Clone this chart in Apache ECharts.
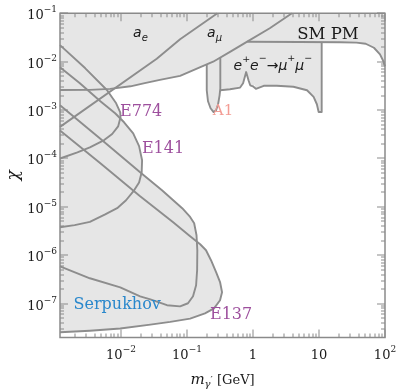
<!DOCTYPE html>
<html>
<head>
<meta charset="utf-8">
<script src="https://cdn.jsdelivr.net/npm/echarts@6/dist/echarts.min.js"></script>
<style>
  html, body { margin: 0; padding: 0; background: #ffffff; }
  #chart { width: 397px; height: 391px; }
</style>
</head>
<body>
<div id="chart"></div>
<script>
// Dark photon limits in the (mass, kinetic mixing) plane, log-log.

// Axis ranges and decade tick labels
const massRange = [0.0012, 100];
const chiRange = [2e-8, 0.1];
const massTicks = [0.01, 0.1, 1, 10, 100];
const massTickLabels = [['10', '−2'], ['10', '−1'], ['1', ''], ['10', ''], ['10', '2']];
const chiTicks = [1e-7, 1e-6, 1e-5, 1e-4, 1e-3, 1e-2, 1e-1];
const chiTickLabels = [['10', '−7'], ['10', '−6'], ['10', '−5'], ['10', '−4'], ['10', '−3'], ['10', '−2'], ['10', '−1']];

// Electron g-2 (excluded above)
const aeMass = [0.0012, 0.0034, 0.0069, 0.014, 0.023, 0.039, 0.079, 0.16, 0.25, 0.45, 0.82, 1.8, 3.9];
const aeChi  = [2.6e-3, 2.62e-3, 2.75e-3, 3.1e-3, 3.6e-3, 4.2e-3, 5.1e-3, 7.7e-3, 1.0e-2, 1.6e-2, 2.6e-2, 4.9e-2, 0.1];

// Muon g-2
const amuMass = [0.0012, 0.035, 0.079, 0.29];
const amuChi  = [4.5e-4, 1.15e-2, 2.9e-2, 0.1];

// SM precision measurements
const smpmMass = [0.82, 5.1, 21, 37, 51, 68, 84, 93, 100];
const smpmChi  = [0.0258, 0.0255, 0.0252, 0.0248, 0.0235, 0.0194, 0.0142, 0.0107, 0.0080];

// A1 fixed-target search
const a1Mass = [0.20, 0.20, 0.209, 0.2285, 0.254, 0.277, 0.297, 0.313, 0.321, 0.321];
const a1Chi  = [8.8e-3, 2.57e-3, 1.52e-3, 1.09e-3, 9.1e-4, 9.9e-4, 1.32e-3, 2.02e-3, 2.82e-3, 1.23e-2];

// e+e- -> mu+mu- resonance search
const eeMass = [0.321, 0.45, 0.64, 0.71, 0.79, 0.86, 0.91, 1.0, 1.06, 1.11, 1.46, 2.3, 4.1, 6.6, 8.3, 9.3, 9.9, 10.3, 11, 11];
const eeChi  = [2.57e-3, 2.69e-3, 2.92e-3, 3.58e-3, 6.1e-3, 4.1e-3, 3.25e-3, 3.1e-3, 3.33e-3, 2.75e-3, 3.18e-3, 3.18e-3, 3.03e-3, 2.57e-3, 1.87e-3, 1.32e-3, 9.1e-4, 9.0e-4, 9.1e-4, 0.0252];

// Beam dumps
const e774Mass = [0.0012, 0.0029, 0.0062, 0.0085, 0.0098, 0.0099, 0.0091, 0.0074, 0.0056, 0.0034, 0.0022, 0.0012];
const e774Chi  = [2.2e-2, 7.3e-3, 2.57e-3, 1.38e-3, 9.0e-4, 7.1e-4, 4.6e-4, 3.2e-4, 2.4e-4, 1.7e-4, 1.34e-4, 1.0e-4];

const e141Mass = [0.0012, 0.0024, 0.0049, 0.0082, 0.0112, 0.0154, 0.0189, 0.021, 0.0207, 0.0189, 0.0159, 0.012, 0.0088, 0.0058, 0.0034, 0.0020, 0.0012];
const e141Chi  = [7.7e-3, 3.6e-3, 1.52e-3, 8.6e-4, 5.6e-4, 3.3e-4, 1.8e-4, 9.2e-5, 5.2e-5, 3.2e-5, 2.2e-5, 1.37e-5, 9.4e-6, 7.0e-6, 4.9e-6, 4.2e-6, 3.8e-6];

const serpMass = [0.0012, 0.0049, 0.0196, 0.042, 0.085, 0.112, 0.129, 0.140, 0.144, 0.143, 0.138, 0.124, 0.104, 0.079, 0.050, 0.028, 0.0196, 0.0098, 0.0034, 0.0012];
const serpChi  = [1.26e-3, 2.55e-4, 5.2e-5, 2.2e-5, 9.4e-6, 6.2e-6, 4.6e-6, 2.6e-6, 1.27e-6, 4.9e-7, 2.4e-7, 1.42e-7, 1.02e-7, 8.8e-8, 9.3e-8, 1.23e-7, 1.42e-7, 2.18e-7, 3.35e-7, 5.9e-7];

const e137Mass = [0.0012, 0.0049, 0.0196, 0.062, 0.112, 0.159, 0.195, 0.232, 0.277, 0.318, 0.341, 0.318, 0.258, 0.188, 0.112, 0.056, 0.028, 0.0098, 0.0034, 0.0012];
const e137Chi  = [3.8e-4, 8.0e-5, 1.66e-5, 4.8e-6, 2.47e-6, 1.69e-6, 1.27e-6, 7.9e-7, 4.5e-7, 2.8e-7, 1.72e-7, 1.18e-7, 8.0e-8, 6.3e-8, 4.9e-8, 4.2e-8, 3.7e-8, 3.06e-8, 2.76e-8, 2.56e-8];

// ---- styling ----
const FILL = '#e6e6e6', LINE = '#8d8d8d', FRAME = '#8a8a8a', INK = '#1a1a1a';
const PURPLE = '#9d4f9d', BLUE = '#2a88cc', SALMON = '#f39c94';
const SERIF = '"DejaVu Serif", serif', SANS = '"DejaVu Sans", sans-serif';

const pairs = (m, c) => m.map((v, i) => [v, c[i]]);

// minor log ticks at 2..9 of each decade
function minorTicks(range) {
  const out = [];
  for (let e = Math.floor(Math.log10(range[0])); e < Math.ceil(Math.log10(range[1])); e++) {
    for (let k = 2; k <= 9; k++) {
      const v = k * Math.pow(10, e);
      if (v > range[0] && v < range[1]) out.push(v);
    }
  }
  return out;
}
const massMinor = minorTicks(massRange);
const chiMinor = minorTicks(chiRange);

// text runs with sub/superscripts
const measureCtx = document.createElement('canvas').getContext('2d');
function seg(t, size, family, italic, dy) {
  return { t, size, dy: dy || 0, font: (italic ? 'italic ' : '') + size + 'px ' + family };
}
function run(segs, x, y, fill, anchor) {
  const widths = segs.map(s => { measureCtx.font = s.font; return measureCtx.measureText(s.t).width; });
  const total = widths.reduce((a, b) => a + b, 0);
  let cx = anchor === 'center' ? x - total / 2 : anchor === 'right' ? x - total : x;
  return segs.map((s, i) => {
    const el = { type: 'text', x: cx, y: y + s.dy, style: { text: s.t, font: s.font, fill, align: 'left', verticalAlign: 'middle' } };
    cx += widths[i];
    return el;
  });
}

// shaded regions
const fillShapes = [
  pairs(aeMass, aeChi).concat([[massRange[0], chiRange[1]]]),
  pairs(amuMass, amuChi).concat([[massRange[0], chiRange[1]]]),
  pairs(smpmMass, smpmChi).concat([[massRange[1], chiRange[1]], [smpmMass[0], chiRange[1]]]),
  pairs(a1Mass, a1Chi),
  pairs(eeMass, eeChi).concat([[eeMass[0], eeChi[eeChi.length - 1]]]),
  pairs(e774Mass, e774Chi),
  pairs(e141Mass, e141Chi),
  pairs(e137Mass, e137Chi),
  pairs(serpMass, serpChi)
];

// boundary curves
const outlines = [
  [aeMass, aeChi], [amuMass, amuChi], [smpmMass, smpmChi], [a1Mass, a1Chi], [eeMass, eeChi],
  [e774Mass, e774Chi], [e141Mass, e141Chi], [e137Mass, e137Chi], [serpMass, serpChi]
];

// region labels, anchored in data coordinates
const notes = [
  { at: [0.01535, 0.0386], anchor: 'left', color: INK, segs: [seg('a', 14, SANS, true), seg('e', 10, SANS, true, 5)] },
  { at: [0.2023, 0.0386], anchor: 'left', color: INK, segs: [seg('a', 14, SANS, true), seg('μ', 10, SANS, true, 5)] },
  { at: [0.5087, 7.85e-3], anchor: 'left', color: INK, segs: [
      seg('e', 14, SANS, true), seg('+', 9.5, SANS, false, -7.5), seg('e', 14, SANS, true), seg('−', 9.5, SANS, false, -8),
      seg('→', 14, SANS), seg('μ', 14, SANS, true), seg('+', 9.5, SANS, false, -8), seg('μ', 14, SANS, true), seg('−', 9.5, SANS, false, -8)] },
  { at: [13.7, 0.0368], anchor: 'center', color: INK, segs: [seg('SM PM', 16.5, SERIF)] },
  { at: [0.353, 9.4e-4], anchor: 'center', color: SALMON, segs: [seg('A1', 15, SERIF)] },
  { at: [0.0203, 9.4e-4], anchor: 'center', color: PURPLE, segs: [seg('E774', 16, SERIF)] },
  { at: [0.0436, 1.55e-4], anchor: 'center', color: PURPLE, segs: [seg('E141', 16, SERIF)] },
  { at: [0.467, 6.0e-8], anchor: 'center', color: PURPLE, segs: [seg('E137', 16, SERIF)] },
  { at: [0.0088, 9.6e-8], anchor: 'center', color: BLUE, segs: [seg('Serpukhov', 16, SERIF)] }
];

function renderFrame(params, api) {
  const lo = api.coord([massRange[0], chiRange[0]]);
  const hi = api.coord([massRange[1], chiRange[1]]);
  const left = lo[0], bottom = lo[1], right = hi[0], top = hi[1];
  const kids = [];
  // ticks as thin filled bars, pointing into the plot
  const vTick = (x, y, len) => kids.push({ type: 'rect', shape: { x: x - 0.5, y: len > 0 ? y : y + len, width: 1, height: Math.abs(len) }, style: { fill: FRAME } });
  const hTick = (x, y, len) => kids.push({ type: 'rect', shape: { x: len > 0 ? x : x + len, y: y - 0.5, width: Math.abs(len), height: 1 }, style: { fill: FRAME } });

  massTicks.forEach((v, i) => {
    const x = Math.round(api.coord([v, chiRange[0]])[0]);
    vTick(x, bottom, -8); vTick(x, top, 8);
    const lab = massTickLabels[i];
    const segs = [seg(lab[0], 13, SERIF)];
    if (lab[1]) segs.push(seg(lab[1], 9, SERIF, false, -6));
    kids.push(...run(segs, x, bottom + 18.5, INK, 'center'));
  });
  massMinor.forEach(v => {
    const x = Math.round(api.coord([v, chiRange[0]])[0]);
    vTick(x, bottom, -4); vTick(x, top, 4);
  });
  chiTicks.forEach((v, i) => {
    const y = Math.round(api.coord([massRange[0], v])[1]);
    hTick(left, y, 8); hTick(right, y, -8);
    const lab = chiTickLabels[i];
    kids.push(...run([seg(lab[0], 13, SERIF), seg(lab[1], 9, SERIF, false, -6)], left - 3, y + 3, INK, 'right'));
  });
  chiMinor.forEach(v => {
    const y = Math.round(api.coord([massRange[0], v])[1]);
    hTick(left, y, 4); hTick(right, y, -4);
  });
  kids.push({ type: 'rect', shape: { x: left, y: top, width: right - left, height: bottom - top },
              style: { fill: null, stroke: FRAME, lineWidth: 1.5 } });

  // axis titles
  kids.push({ type: 'text', x: 14, y: (top + bottom) / 2, rotation: Math.PI / 2,
              style: { text: 'χ', font: 'italic 17px ' + SERIF, fill: INK, align: 'center', verticalAlign: 'middle' } });
  kids.push(...run([seg('m', 15, SERIF, true), seg('γ', 10, SERIF, true, 4), seg('′', 10, SERIF, false, 0),
                    seg(' [GeV]', 13, SERIF)], (left + right) / 2, bottom + 43, INK, 'center'));
  return { type: 'group', children: kids };
}

function renderNotes(params, api) {
  const kids = [];
  notes.forEach(n => {
    const p = api.coord(n.at);
    kids.push(...run(n.segs, p[0], p[1], n.color, n.anchor));
  });
  return { type: 'group', children: kids };
}

const chart = echarts.init(document.getElementById('chart'), null, { renderer: 'canvas' });
const hiddenAxis = { show: true, axisLine: { show: false }, axisTick: { show: false }, axisLabel: { show: false }, splitLine: { show: false } };

chart.setOption({
  animation: false,
  backgroundColor: '#ffffff',
  grid: { left: 60, right: 12, top: 13.3, bottom: 53.5, containLabel: false },
  xAxis: Object.assign({ type: 'log', logBase: 10, min: massRange[0], max: massRange[1] }, hiddenAxis),
  yAxis: Object.assign({ type: 'log', logBase: 10, min: chiRange[0], max: chiRange[1] }, hiddenAxis),
  series: [
    {
      type: 'custom', silent: true, z: 1, clip: true,
      data: fillShapes.map(s => s[0]),
      renderItem: (params, api) => ({
        type: 'polygon',
        shape: { points: fillShapes[params.dataIndex].map(p => api.coord(p)) },
        style: { fill: FILL }
      })
    },
    ...outlines.map(o => ({
      type: 'line', silent: true, z: 2, symbol: 'none', showSymbol: false,
      data: pairs(o[0], o[1]),
      lineStyle: { color: LINE, width: 1.9, join: 'round' }
    })),
    { type: 'custom', silent: true, z: 3, clip: false, data: [[1, 1e-4]], renderItem: renderFrame },
    { type: 'custom', silent: true, z: 4, clip: false, data: [[1, 1e-4]], renderItem: renderNotes }
  ]
});
</script>
</body>
</html>
